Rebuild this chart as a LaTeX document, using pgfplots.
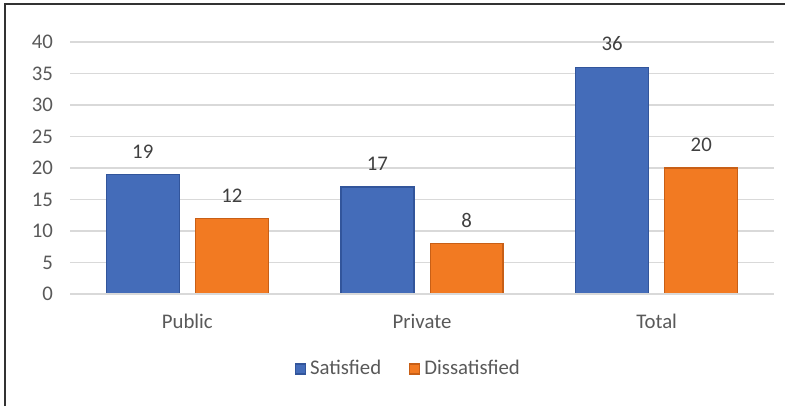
\documentclass[border=0pt]{standalone}
\usepackage{fontspec}
\setmainfont{Carlito}
\usepackage{pgfplots}
\pgfplotsset{compat=1.18}
\definecolor{sblue}{RGB}{68,108,185}
\definecolor{sblueD}{RGB}{50,85,155}
\definecolor{sorange}{RGB}{242,122,34}
\definecolor{sorangeD}{RGB}{200,95,22}
\definecolor{tickgray}{RGB}{89,89,89}
\definecolor{labgray}{RGB}{64,64,64}
\definecolor{gridgray}{RGB}{217,217,217}
\definecolor{framegray}{RGB}{50,50,50}
\pgfplotstableread{
x sat dis
0 19 12
1 17 8
2 36 20
}\datatable
\begin{document}
\begin{tikzpicture}
\useasboundingbox (0pt,0pt) rectangle (392.5pt,203pt);
\draw[line width=1pt, framegray] (2.5pt,0pt) -- (2.5pt,201pt) -- (392.5pt,201pt);
\begin{axis}[
  at={(35pt,56pt)}, anchor=south west,
  scale only axis, width=352pt, height=126pt,
  xmin=-0.5, xmax=2.5, ymin=0, ymax=40,
  ytick={0,5,...,40},
  xtick={0,1,2}, xticklabels={Public,Private,Total},
  axis line style={draw=none},
  major tick length=0pt,
  ymajorgrids, grid style={gridgray, line width=0.8pt},
  font=\fontsize{10.4}{12}\selectfont,
  yticklabel style={color=tickgray, xshift=-5pt},
  xticklabel style={color=tickgray, yshift=-6.5pt},
  /pgf/number format/assume math mode=true,
  ybar, bar width=0.311,
  nodes near coords,
  nodes near coords style={color=labgray, font=\fontsize{10.4}{12}\selectfont, anchor=south, yshift=4.5pt},
  legend columns=2,
  legend style={at={(0.482,-0.298)}, anchor=center, draw=none, fill=none,
    font=\fontsize{10.4}{12}\selectfont, text=tickgray,
    /tikz/every even column/.append style={column sep=12pt},
    inner sep=0pt},
  legend image code/.code={\fill[#1] (0pt,-2.5pt) rectangle (5pt,2.5pt);},
]
\addplot[bar shift=-0.19, fill=sblue, draw=sblueD, line width=0.6pt] table[x=x, y=sat] {\datatable};
\addplot[bar shift=0.19, fill=sorange, draw=sorangeD, line width=0.6pt] table[x=x, y=dis] {\datatable};
\legend{Satisfied, Dissatisfied}
\draw[gridgray, line width=1.2pt] (axis cs:-0.5,0) -- (axis cs:2.5,0);
\end{axis}
\end{tikzpicture}
\end{document}
